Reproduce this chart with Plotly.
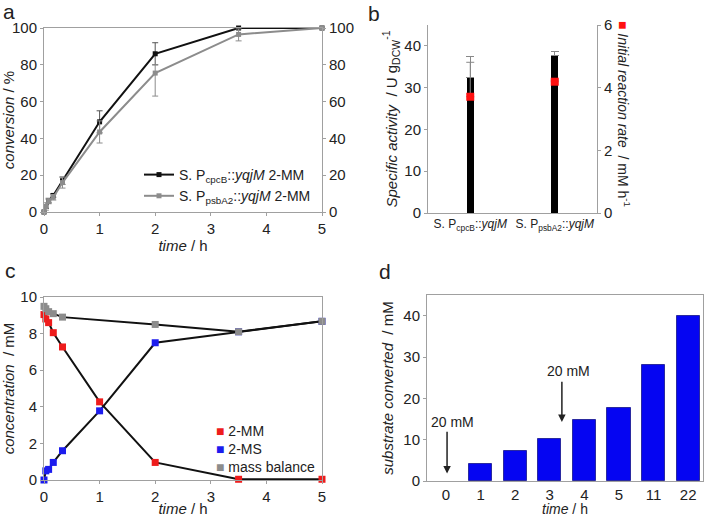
import plotly.graph_objects as go

# ---------------- data ----------------
# panel a: conversion (%)
t_a = [0, 0.033, 0.083, 0.167, 0.333, 1, 2, 3.5, 5]
conv_cpcB = [0, 3, 6, 9, 17, 49, 86, 100, 100]
conv_cpcB_err = [0, 1, 1, 1, 2, 6, 6, 0, 0]
conv_psbA2 = [0, 3, 6, 8, 16, 43.5, 75.5, 96.5, 100]
conv_psbA2_err_plus = [0, 2, 1.5, 1.5, 3, 6, 4.5, 3, 0]
conv_psbA2_err_minus = [0, 2, 1.5, 1.5, 3, 6, 12.5, 3.5, 0]

# panel b
strains_b = ["S. P<sub>cpcB</sub>::<i>yqjM</i>", "S. P<sub>psbA2</sub>::<i>yqjM</i>"]
spec_activity = [32.5, 37.8]
spec_activity_err = [5.0, 0.8]
init_rate = [3.71, 4.19]
init_rate_err = [1.1, 0.05]

# panel c
t_c = [0, 0.033, 0.083, 0.167, 0.333, 1, 2, 3.5, 5]
mm = [9.04, 8.8, 8.6, 8.05, 7.27, 4.27, 0.96, 0.04, 0.04]
ms = [0, 0.5, 0.58, 0.96, 1.6, 3.78, 7.5, 8.1, 8.67]
mass_bal = [9.49, 9.36, 9.2, 9.09, 8.9, None, 8.5, 8.1, 8.67]
series_c = ["2-MM", "2-MS", "mass balance"]
colors_c = ["#ee1c1c", "#1c1cee", "#8c8c8c"]

# panel d
time_d = ["0", "1", "2", "3", "4", "5", "11", "22"]
substrate_conv = [0, 4.1, 7.3, 10.1, 14.8, 17.6, 28.1, 40]

FONT = "Liberation Sans, Arial, sans-serif"
GRAY = "#a0a0a0"
TXT = "#222222"
W, H = 709, 517

def px_x(p):
    return p / W

def px_y(p):
    return 1 - p / H

fig = go.Figure()

# ---------- panel a ----------
fig.add_trace(go.Scatter(
    x=t_a, y=conv_cpcB, mode="lines+markers",
    line=dict(color="#111111", width=2),
    marker=dict(symbol="square", size=5, color="#111111"),
    error_y=dict(type="data", array=conv_cpcB_err, color="#555555", thickness=1, width=3),
    name="S. P<sub>cpcB</sub>::<i>yqjM</i> 2-MM",
    xaxis="x", yaxis="y", legend="legend", cliponaxis=False))
fig.add_trace(go.Scatter(
    x=t_a, y=conv_psbA2, mode="lines+markers",
    line=dict(color="#8c8c8c", width=2),
    marker=dict(symbol="square", size=5, color="#8c8c8c"),
    error_y=dict(type="data", symmetric=False, array=conv_psbA2_err_plus,
                 arrayminus=conv_psbA2_err_minus, color="#8c8c8c", thickness=1, width=3),
    name="S. P<sub>psbA2</sub>::<i>yqjM</i> 2-MM",
    xaxis="x", yaxis="y", legend="legend", cliponaxis=False))
# invisible trace so that the mirrored right axis of panel a is drawn
fig.add_trace(go.Scatter(
    x=t_a, y=conv_cpcB, mode="markers", marker=dict(opacity=0),
    xaxis="x", yaxis="y2", showlegend=False, hoverinfo="skip"))

# ---------- panel b ----------
fig.add_trace(go.Bar(
    x=[0, 1], y=spec_activity, width=0.085, marker=dict(color="black", line=dict(width=0)),
    error_y=dict(type="data", symmetric=False, array=spec_activity_err, arrayminus=[0, 0],
                 color="#888888", thickness=1, width=4),
    xaxis="x2", yaxis="y3", showlegend=False))
fig.add_trace(go.Scatter(
    x=[0, 1], y=init_rate, mode="markers",
    marker=dict(symbol="square", size=8, color="#ff1010"),
    error_y=dict(type="data", symmetric=False, array=init_rate_err, arrayminus=[0, 0],
                 color="#888888", thickness=1, width=4),
    xaxis="x2", yaxis="y4", showlegend=False))

# ---------- panel c ----------
for name, ys, col in zip(series_c, [mm, ms, mass_bal], colors_c):
    fig.add_trace(go.Scatter(
        x=t_c, y=ys, mode="lines+markers", name=name, connectgaps=True,
        line=dict(color="#111111", width=2),
        marker=dict(symbol="square", size=7, color=col),
        xaxis="x3", yaxis="y5", showlegend=False, cliponaxis=False))

# ---------- panel d ----------
fig.add_trace(go.Bar(
    x=time_d, y=substrate_conv, width=0.67,
    marker=dict(color="#0505f2",
                line=dict(color="#2a2aa0", width=[0 if v == 0 else 1 for v in substrate_conv])),
    xaxis="x4", yaxis="y6", showlegend=False))

tickfont = dict(family=FONT, size=15, color=TXT)
titlefont = dict(family=FONT, size=15, color=TXT)
common_ax = dict(showgrid=False, zeroline=False, linecolor=GRAY, linewidth=1, automargin=False,
                 ticks="outside", ticklen=3, tickcolor=GRAY, tickfont=tickfont)

dom_ax = [px_x(44), px_x(322)]
dom_ay = [px_y(212), px_y(28)]
dom_bx = [px_x(428), px_x(597)]
dom_by = [px_y(213), px_y(25)]
dom_cy = [px_y(480), px_y(297)]
dom_dx = [px_x(427), px_x(703)]
dom_dy = [px_y(481), px_y(295)]

fig.update_layout(
    width=W, height=H, margin=dict(l=0, r=0, t=0, b=0, pad=0, autoexpand=False),
    plot_bgcolor="white", paper_bgcolor="white",
    font=dict(family=FONT, color=TXT),
    bargap=0,
    # panel a
    xaxis=dict(common_ax, domain=dom_ax, anchor="y", range=[0, 5], tickvals=[0, 1, 2, 3, 4, 5],
               showline=True, mirror=True,
               title=dict(text="<i>time</i> / h", font=titlefont, standoff=4)),
    yaxis=dict(common_ax, domain=dom_ay, anchor="x", range=[0, 100], tickvals=[0, 20, 40, 60, 80, 100],
               showline=True, mirror=True,
               title=dict(text="<i>conversion</i> / %", font=titlefont, standoff=5)),
    yaxis2=dict(common_ax, overlaying="y", side="right", anchor="x", range=[0, 100],
                tickvals=[0, 20, 40, 60, 80, 100], showline=False),
    # panel b
    xaxis2=dict(common_ax, domain=dom_bx, anchor="y3", range=[-0.5, 1.5], tickvals=[0, 1],
                ticktext=strains_b, ticks="", showline=True,
                tickfont=dict(family=FONT, size=12, color=TXT)),
    yaxis3=dict(common_ax, domain=dom_by, anchor="x2", range=[0, 45], tickvals=[0, 10, 20, 30, 40],
                showline=True,
                title=dict(text="<i>Specific activity</i>  / U g<sub>DCW</sub><sup>-1</sup>",
                           font=titlefont, standoff=3)),
    yaxis4=dict(common_ax, overlaying="y3", side="right", anchor="x2", range=[0, 6],
                tickvals=[0, 2, 4, 6], showline=True),
    # panel c
    xaxis3=dict(common_ax, domain=dom_ax, anchor="y5", range=[0, 5], tickvals=[0, 1, 2, 3, 4, 5],
                showline=True, mirror=True,
                title=dict(text="<i>time</i> / h", font=titlefont, standoff=5)),
    yaxis5=dict(common_ax, domain=dom_cy, anchor="x3", range=[0, 10], tickvals=[0, 2, 4, 6, 8, 10],
                showline=True, mirror=True,
                title=dict(text="<i>concentration</i>  / mM", font=titlefont, standoff=5)),
    # panel d
    xaxis4=dict(common_ax, domain=dom_dx, anchor="y6", type="category", range=[-0.55, 7.43],
                showline=True, mirror=True, ticks="", ticklen=0,
                title=dict(text="<i>time</i> / h", font=dict(family=FONT, size=14, color=TXT),
                           standoff=8)),
    yaxis6=dict(common_ax, domain=dom_dy, anchor="x4", range=[0, 45], tickvals=[0, 10, 20, 30, 40],
                showline=True, mirror=True,
                title=dict(text="<i>substrate converted</i>  / mM", font=titlefont, standoff=6)),
    legend=dict(x=px_x(316), y=px_y(212), xanchor="right", yanchor="bottom",
                bgcolor="rgba(0,0,0,0)", font=dict(family=FONT, size=14, color=TXT),
                itemwidth=30, tracegroupgap=0),
)

ann = []
# panel letters
for letter, x, y in [("a", 9, 12), ("b", 374, 13), ("c", 10, 270), ("d", 385, 271)]:
    ann.append(dict(text=letter, x=px_x(x), y=px_y(y), xref="paper", yref="paper",
                    xanchor="center", yanchor="middle",
                    showarrow=False, font=dict(family=FONT, size=21, color=TXT)))
# right axis title panel b (reads top to bottom)
ann.append(dict(text="<span style='color:#ff1010'>■</span> <i>Initial reaction rate</i>  / mM h<sup>-1</sup>",
                x=px_x(624), y=px_y(114), xref="paper", yref="paper", textangle=90,
                xanchor="center", yanchor="middle",
                showarrow=False, font=dict(family=FONT, size=14, color=TXT)))
# legend of panel c (text keys in one block)
legend_c = "<br>".join(f"<span style='color:{col}'>■</span> {name}"
                       for name, col in zip(series_c, colors_c))
ann.append(dict(text=legend_c, x=px_x(214), y=px_y(449), xref="paper", yref="paper",
                xanchor="left", yanchor="middle", align="left", showarrow=False,
                font=dict(family=FONT, size=14, color=TXT)))
# arrows panel d
ann.append(dict(text="20 mM", x=0.2, y=14.3, xref="x4", yref="y6", showarrow=False,
                xanchor="center", yanchor="middle",
                font=dict(family=FONT, size=14, color=TXT)))
ann.append(dict(text="", x=0.03, y=1.8, ax=0.03, ay=12.3, xref="x4", yref="y6",
                axref="x4", ayref="y6", showarrow=True, arrowhead=2, arrowsize=1,
                arrowwidth=1.5, arrowcolor=TXT))
ann.append(dict(text="20 mM", x=3.53, y=26.5, xref="x4", yref="y6", showarrow=False,
                xanchor="center", yanchor="middle",
                font=dict(family=FONT, size=14, color=TXT)))
ann.append(dict(text="", x=3.35, y=14.3, ax=3.35, ay=24.4, xref="x4", yref="y6",
                axref="x4", ayref="y6", showarrow=True, arrowhead=2, arrowsize=1,
                arrowwidth=1.5, arrowcolor=TXT))
fig.update_layout(annotations=ann)

fig.write_html("out.html", config={"displayModeBar": False},
               post_script="document.body.style.margin='0px';document.body.style.overflow='hidden';")
